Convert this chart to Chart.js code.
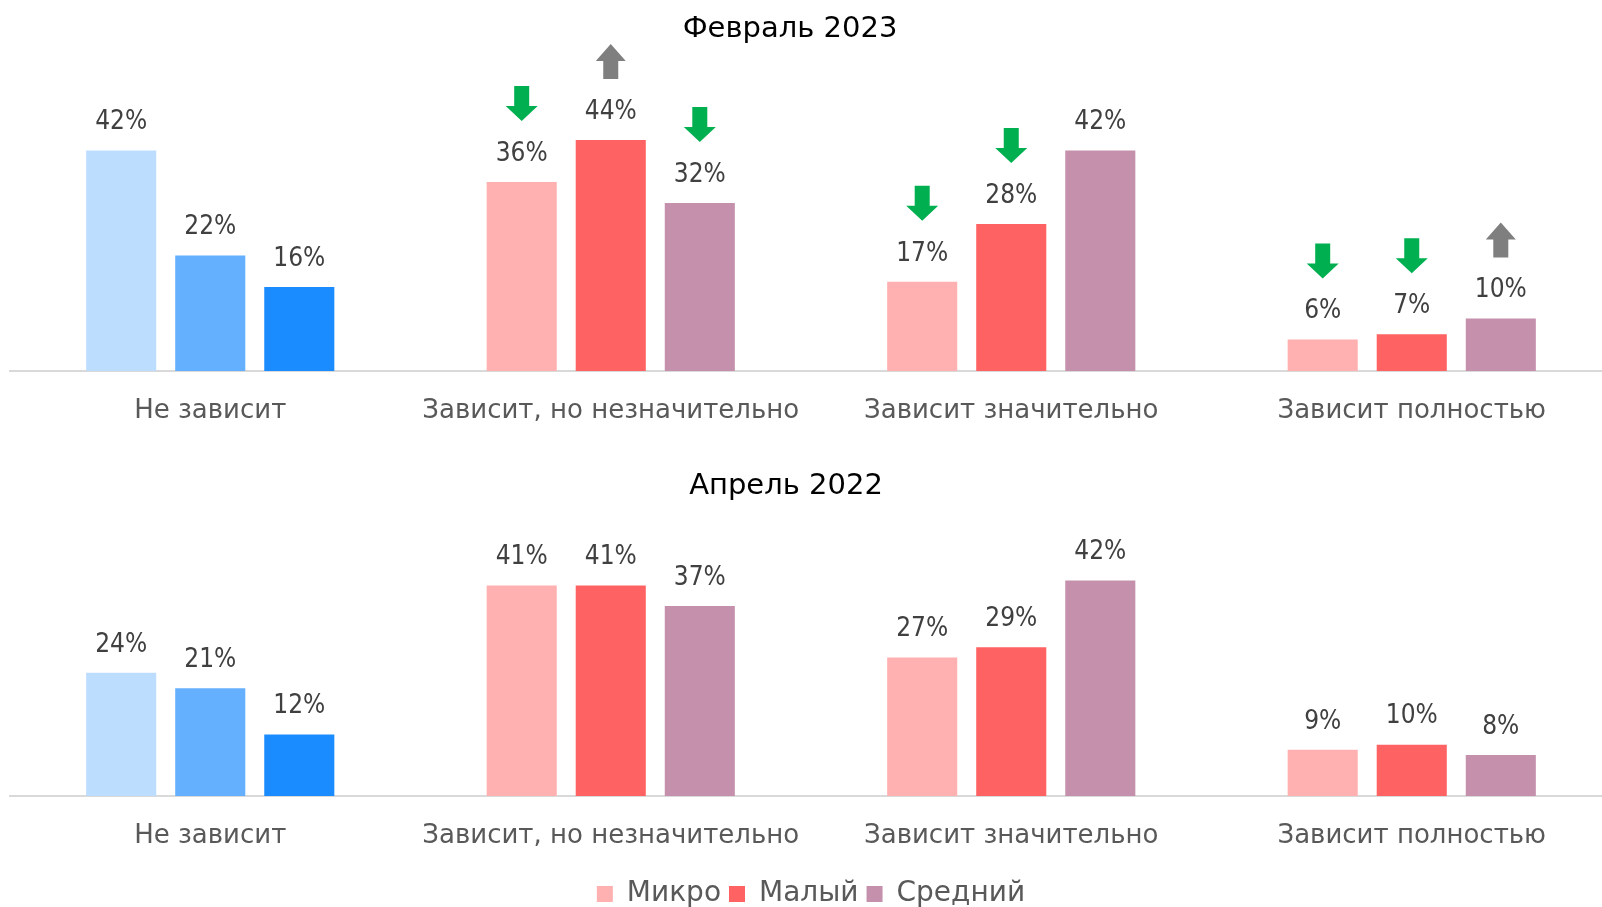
<!DOCTYPE html>
<html>
<head>
<meta charset="utf-8">
<script src="https://cdn.jsdelivr.net/npm/chart.js@4.4.1/dist/chart.umd.min.js"></script>
<style>
  html, body { margin: 0; padding: 0; background: #fff; overflow: hidden; width: 1602px; height: 907px; }
  .panel { position: absolute; left: 0; width: 1612px; }
  #top { top: 0; height: 440px; }
  #bot { top: 440px; height: 480px; }
</style>
</head>
<body>
<div class="panel" id="top"><canvas id="feb"></canvas></div>
<div class="panel" id="bot"><canvas id="apr"></canvas></div>
<script>
const categories = ['Не зависит', 'Зависит, но незначительно', 'Зависит значительно', 'Зависит полностью'];
const seriesNames = ['Микро', 'Малый', 'Средний'];

// Февраль 2023
const feb2023Micro = [42, 36, 17, 6];
const feb2023Small = [22, 44, 28, 7];
const feb2023Medium = [16, 32, 42, 10];

// Апрель 2022
const apr2022Micro = [24, 41, 27, 9];
const apr2022Small = [21, 41, 29, 10];
const apr2022Medium = [12, 37, 42, 8];

// стрелки над столбцами февраля: -1 вниз (зелёная), 1 вверх (серая), 0 нет
const feb2023ArrowsMicro = [0, -1, -1, -1];
const feb2023ArrowsSmall = [0, 1, -1, -1];
const feb2023ArrowsMedium = [0, -1, 0, 1];

const pinkColors = ['#FFB0B0', '#FF6262', '#C590AB'];
const blueColors = ['#BDDDFE', '#64B0FF', '#1A8CFF'];

function drawArrow(ctx, x, bottom, dir) {
  ctx.beginPath();
  if (dir < 0) {
    ctx.fillStyle = '#00B050';
    ctx.moveTo(x - 7.5, bottom - 35);
    ctx.lineTo(x + 7.5, bottom - 35);
    ctx.lineTo(x + 7.5, bottom - 15);
    ctx.lineTo(x + 16, bottom - 15);
    ctx.lineTo(x, bottom);
    ctx.lineTo(x - 16, bottom - 15);
    ctx.lineTo(x - 7.5, bottom - 15);
  } else {
    ctx.fillStyle = '#7F7F7F';
    ctx.moveTo(x, bottom - 35);
    ctx.lineTo(x + 15, bottom - 18);
    ctx.lineTo(x + 7.5, bottom - 18);
    ctx.lineTo(x + 7.5, bottom);
    ctx.lineTo(x - 7.5, bottom);
    ctx.lineTo(x - 7.5, bottom - 18);
    ctx.lineTo(x - 15, bottom - 18);
  }
  ctx.closePath();
  ctx.fill();
}

// подписи значений, стрелки и заголовок панели
const barLabels = {
  id: 'barLabels',
  afterDatasetsDraw(chart, args, opts) {
    const ctx = chart.ctx;
    ctx.save();
    ctx.textAlign = 'center';
    ctx.textBaseline = 'middle';
    chart.data.datasets.forEach((ds, i) => {
      chart.getDatasetMeta(i).data.forEach((bar, j) => {
        ctx.font = '26px "DejaVu Sans Condensed", "DejaVu Sans"';
        ctx.fillStyle = '#404040';
        ctx.fillText(ds.data[j] + '%', bar.x, bar.y - 28);
        const dir = ds.arrows ? ds.arrows[j] : 0;
        if (dir) drawArrow(ctx, bar.x, bar.y - 61, dir);
      });
    });
    ctx.font = '29px "DejaVu Sans"';
    ctx.fillStyle = '#000';
    ctx.fillText(opts.title, opts.titleX, opts.titleY);
    ctx.restore();
  }
};

function makeChart(id, values, arrows, opts) {
  return new Chart(document.getElementById(id), {
    type: 'bar',
    data: {
      labels: categories,
      datasets: seriesNames.map((name, i) => ({
        label: name,
        data: values[i],
        arrows: arrows ? arrows[i] : null,
        backgroundColor: c => c.dataIndex === 0 ? blueColors[i] : pinkColors[i],
        barPercentage: 0.787,
        categoryPercentage: 0.667
      }))
    },
    options: {
      responsive: true,
      maintainAspectRatio: false,
      animation: false,
      layout: { padding: { left: 10, right: 0, top: opts.padTop, bottom: opts.padBottom } },
      scales: {
        x: {
          grid: { display: false, drawTicks: false },
          border: { display: true, color: '#D9D9D9', width: 2 },
          ticks: { color: '#595959', padding: 25, font: { family: 'DejaVu Sans', size: 26 } },
          afterFit: s => { s.height = opts.axisHeight; }
        },
        y: { display: false, min: 0, max: 60 }
      },
      plugins: {
        legend: {
          display: opts.legend,
          position: 'bottom',
          labels: {
            color: '#595959',
            boxWidth: 16,
            boxHeight: 16,
            padding: 8,
            font: { family: 'DejaVu Sans', size: 28 },
            generateLabels: () => seriesNames.map((n, i) => ({
              text: n, fillStyle: pinkColors[i], strokeStyle: pinkColors[i],
              lineWidth: 0, hidden: false, datasetIndex: i, fontColor: '#595959'
            }))
          }
        },
        tooltip: { enabled: false },
        barLabels: { title: opts.title, titleX: opts.titleX, titleY: opts.titleY }
      }
    },
    plugins: [barLabels]
  });
}

makeChart('feb', [feb2023Micro, feb2023Small, feb2023Medium],
  [feb2023ArrowsMicro, feb2023ArrowsSmall, feb2023ArrowsMedium],
  { title: 'Февраль 2023', titleX: 790, titleY: 29, padTop: 56, padBottom: 0, axisHeight: 69, legend: false });

makeChart('apr', [apr2022Micro, apr2022Small, apr2022Medium], null,
  { title: 'Апрель 2022', titleX: 786, titleY: 46, padTop: 48, padBottom: 2, axisHeight: 76, legend: true });
</script>
</body>
</html>
